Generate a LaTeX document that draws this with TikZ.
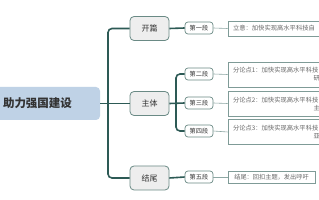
\documentclass[tikz,border=0pt]{standalone}
\usepackage{fontspec}
\setmainfont{Noto Sans CJK SC}
\definecolor{rootfill}{HTML}{BFD2E6}
\definecolor{lvlfill}{HTML}{EEEEEE}
\definecolor{boxborder}{HTML}{6A8A85}
\definecolor{linedark}{HTML}{2D5A55}
\definecolor{linethin}{HTML}{8DA7A3}
\definecolor{tbborder}{HTML}{7F9B97}
\definecolor{darktext}{HTML}{333333}
\definecolor{graytext}{HTML}{666666}
\begin{document}
\begin{tikzpicture}[x=1pt,y=-1pt,
  trunk/.style={draw=linedark,line width=1.6pt,rounded corners=4pt},
  thinline/.style={draw=linethin,line width=0.6pt},
  rootbox/.style={fill=rootfill,rounded corners=4pt,minimum width=125pt,minimum height=33pt,inner sep=0pt,
    font=\fontsize{11.5}{12}\selectfont\bfseries,text=darktext},
  lvlone/.style={draw=boxborder,fill=lvlfill,rounded corners=4pt,line width=0.8pt,minimum width=39pt,
    minimum height=24pt,inner sep=0pt,font=\fontsize{8}{9}\selectfont,text=darktext},
  lvltwo/.style={draw=boxborder,fill=white,rounded corners=3pt,line width=0.7pt,minimum width=28pt,
    minimum height=12pt,inner sep=0pt,font=\fontsize{6.2}{7}\selectfont,text=darktext},
  textbox/.style={draw=tbborder,fill=white,line width=0.6pt,inner xsep=5pt,inner ysep=0pt,
    text width=87pt,align=left,font=\fontsize{6.3}{9}\selectfont,text=graytext}
]
\clip (0,0) rectangle (319,200);
\fill[white] (0,0) rectangle (319,200);

% root
\node[rootbox] (root) at (37.5,103.5) {助力强国建设};

% level one
\node[lvlone] (kaipian) at (149.5,28.5) {开篇};
\node[lvlone] (zhuti) at (149.5,103.5) {主体};
\node[lvlone] (jiewei) at (149.5,178) {结尾};

% level two
\node[lvltwo] (d1) at (199,28) {第一段};
\node[lvltwo] (d2) at (199,74) {第二段};
\node[lvltwo] (d3) at (199,103) {第三段};
\node[lvltwo] (d4) at (199,131) {第四段};
\node[lvltwo] (d5) at (199,177) {第五段};

% text boxes
\node[textbox,minimum height=15pt] (t1) at (276.5,28.5) {立意：加快实现高水平科技自};
\node[textbox,minimum height=25pt] (t2) at (276.5,74.5) {分论点1：加快实现高水平科技\\[-1pt]\hfill 研};
\node[textbox,minimum height=25pt] (t3) at (276.5,103.5) {分论点2：加快实现高水平科技\\[-1pt]\hfill 主};
\node[textbox,minimum height=25pt] (t4) at (276.5,132) {分论点3：加快实现高水平科技\\[-1pt]\hfill 亚};
\node[draw=tbborder,fill=white,line width=0.6pt,minimum width=87pt,minimum height=12pt,inner sep=0pt,
  font=\fontsize{6.2}{7}\selectfont,text=graytext] (t5) at (271.5,177) {结尾：回扣主题，发出呼吁};

% connectors
\coordinate (tk) at (108,103.5);
\coordinate (bz) at (176,103.5);
\draw[trunk] (root.east) -- (zhuti.west);
\draw[trunk] (kaipian.west) -| (tk) |- (jiewei.west);
\draw[trunk] (kaipian.east) -- (d1.west);
\draw[trunk] (zhuti.east) -- (d3.west);
\draw[trunk] (d2.west) -| (bz) |- (d4.west);
\draw[trunk] (jiewei.east) -- (d5.west);

\draw[thinline] (d1.east) -- (t1.west);
\draw[thinline] (d2.east) -- (t2.west);
\draw[thinline] (d3.east) -- (t3.west);
\draw[thinline] (d4.east) -- (t4.west);
\draw[thinline] (d5.east) -- (t5.west);
\end{tikzpicture}
\end{document}
